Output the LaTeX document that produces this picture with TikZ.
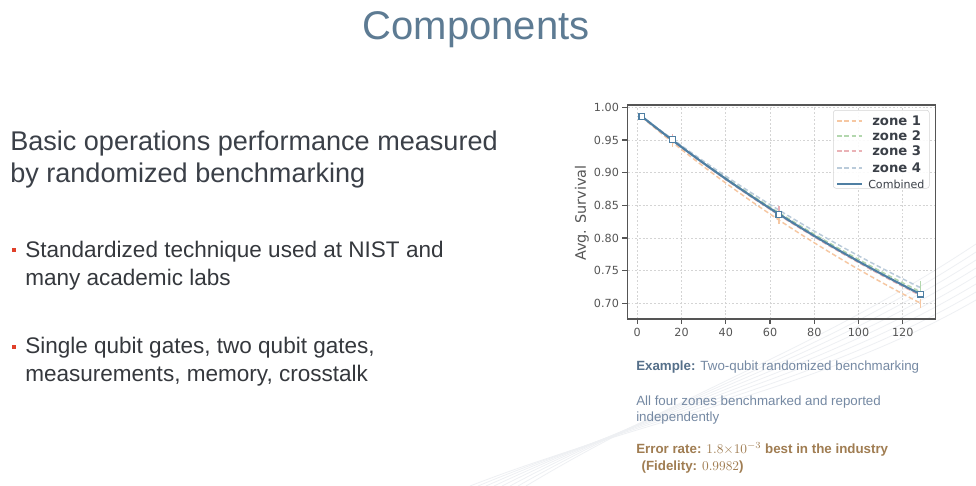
\documentclass[tikz,border=0pt]{standalone}
\usepackage{fontspec}
\setmainfont{Liberation Sans}
\newfontfamily\plotfont{DejaVu Sans}
\usetikzlibrary{positioning}
\definecolor{titleblue}{HTML}{5D7B93}
\definecolor{heading}{HTML}{3B4048}
\definecolor{bodytext}{HTML}{35383D}
\definecolor{bulletred}{HTML}{E0402A}
\definecolor{exlabel}{HTML}{56708A}
\definecolor{exbody}{HTML}{7589A3}
\definecolor{errtext}{HTML}{A07D52}
\definecolor{axisgray}{HTML}{555555}
\definecolor{gridgray}{HTML}{D4D4D4}
\definecolor{combined}{HTML}{4F7FA3}
\definecolor{zoneone}{HTML}{F6C7A2}
\definecolor{zonetwo}{HTML}{B3D7AE}
\definecolor{zonethree}{HTML}{EAB2B6}
\definecolor{zonefour}{HTML}{BACBDA}
\definecolor{swoosh}{HTML}{EEF0F3}

\begin{document}
\begin{tikzpicture}[
  x=0.75pt,y=-0.75pt,
  bullet/.style={fill=bulletred,minimum size=3.6pt,inner sep=0pt},
  line/.style={anchor=base west,inner sep=0pt,align=left},
  grid/.style={draw=gridgray,line width=0.5pt,dash pattern=on 1.4pt off 1.4pt},
  axis/.style={draw=axisgray,line width=0.8pt},
  ticklab/.style={font=\plotfont\fontsize{8.4}{10}\selectfont,text=axisgray,inner sep=1pt},
  zone/.style={line width=1.1pt,dash pattern=on 3.5pt off 2pt},
  ebar/.style={line width=1.2pt},
  sqmark/.style={draw=combined,fill=white,line width=0.9pt,minimum size=4.2pt,inner sep=0pt},
]
\useasboundingbox (0,0) rectangle (976,486);
\fill[white] (0,0) rectangle (976,486);

% faint swoosh of the slide background
\foreach \k in {0,...,7}
  \draw[swoosh,line width=0.6pt] (470+8*\k,486) .. controls (640+6*\k,420-4*\k) and (820,390-6*\k) .. (976,300-8*\k);

% title and left column (multi-line nodes sit on the baseline of their last line)
\node[font=\fontsize{30}{36}\selectfont,text=titleblue] (title) at (476,30) {Components};
\node[line,font=\fontsize{20.3}{23.3}\selectfont,text=heading] (intro) at (10,182)
  {Basic operations performance measured\\by randomized benchmarking};
\node[bullet] (b1) at (14,250) {};
\node[line,font=\fontsize{16.9}{20.3}\selectfont,text=bodytext] (nist) at (25,285)
  {Standardized technique used at NIST and\\many academic labs};
\node[bullet] (b2) at (14,347) {};
\node[line,font=\fontsize{16.9}{20.3}\selectfont,text=bodytext] (gates) at (25,381)
  {Single qubit gates, two qubit gates,\\measurements, memory, crosstalk};

% the benchmarking plot (m on x, survival on y)
\begin{scope}[shift={(637.3,303.3)},x=1.659pt,y=490pt]
  \foreach \m in {0,20,...,120}
    \draw[grid] (\m,-0.024) -- (\m,0.3035);
  \foreach \s in {0,0.05,0.10,0.15,0.20,0.25,0.30}
    \draw[grid] (-4.3,\s) -- (134.6,\s);
  \foreach \m in {0,20,...,120} {
    \draw[axis] (\m,-0.024) -- ++(0,-0.007);
    \node[ticklab] (xt\m) at (\m,-0.044) {\m};
  }
  \foreach \s/\t in {0/0.70,0.05/0.75,0.10/0.80,0.15/0.85,0.20/0.90,0.25/0.95,0.30/1.00} {
    \draw[axis] (-4.3,\s) -- ++(-2.4,0);
    \node[ticklab,anchor=east] (yt\t) at (-7.6,\s) {\t};
  }
  \node[ticklab,font=\plotfont\fontsize{10.8}{12}\selectfont,rotate=90] (ylab) at (-25,0.138) {Avg. Survival};

  % four zones, dashed and faded
  \draw[zone,zoneone]   plot[domain=2:128,samples=50,smooth] (\x,{0.25+0.7407*exp(-0.003894*\x)-0.70});
  \draw[zone,zonetwo]   plot[domain=2:128,samples=50,smooth] (\x,{0.25+0.7413*exp(-0.003594*\x)-0.70});
  \draw[zone,zonethree] plot[domain=2:128,samples=50,smooth] (\x,{0.25+0.7410*exp(-0.003696*\x)-0.70});
  \draw[zone,zonefour]  plot[domain=2:128,samples=50,smooth] (\x,{0.25+0.7412*exp(-0.003492*\x)-0.70});
  % error bars
  \draw[ebar,zonethree] (16,0.251) -- (16,0.259);
  \draw[ebar,zoneone]   (16,0.240) -- (16,0.247);
  \draw[ebar,zonethree] (64,0.139) -- (64,0.149);
  \draw[ebar,zoneone]   (64,0.121) -- (64,0.131);
  \draw[ebar,zonetwo]   (128,0.017) -- (128,0.034);
  \draw[ebar,zoneone]   (128,-0.007) -- (128,0.006);

  % combined fit
  \draw[combined,line width=1.6pt] plot[domain=2:128,samples=60,smooth] (\x,{0.25+0.7414*exp(-0.003667*\x)-0.70});
  \foreach \m/\s [count=\i] in {2/0.286,16/0.251,64/0.136,128/0.014}
    \node[sqmark] (c\i) at (\m,\s) {};

  \draw[axis] (-4.3,-0.024) rectangle (134.6,0.3035);
\end{scope}

% legend
\node[draw=gridgray,fill=white,fill opacity=0.9,rounded corners=2pt,minimum width=72pt,minimum height=58.5pt,anchor=north west,inner sep=0pt] (legend) at (833,110) {};
\foreach \c/\y/\t in {zoneone/121/zone 1,zonetwo/136/zone 2,zonethree/151/zone 3,zonefour/168/zone 4} {
  \draw[zone,\c] (837,\y) -- (862,\y);
  \node[anchor=west,inner sep=0pt,font=\plotfont\bfseries\fontsize{9.9}{11}\selectfont,text=heading] (lg\y) at (872,\y) {\t};
}
\draw[combined,line width=1.6pt] (837,184) -- (862,184);
\node[anchor=west,inner sep=0pt,font=\plotfont\fontsize{8.3}{10}\selectfont,text=heading] (lgcomb) at (868,184) {Combined};

% notes under the plot
\node[line,font=\fontsize{10}{12}\selectfont,text=exbody] (example) at (636,370)
  {\textcolor{exlabel}{\bfseries Example:} Two-qubit randomized benchmarking};
\node[line,font=\fontsize{10}{12}\selectfont,text=exbody] (zones) at (636,421)
  {All four zones benchmarked and reported\\independently};
\node[line,font=\bfseries\fontsize{10}{12.5}\selectfont,text=errtext] (errrate) at (636,470)
  {Error rate: $1.8{\times}10^{-3}$ best in the industry\\\hspace*{4pt}(Fidelity: $0.9982$)};
\end{tikzpicture}
\end{document}
